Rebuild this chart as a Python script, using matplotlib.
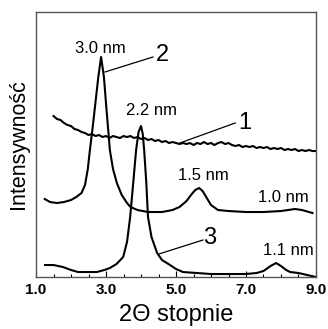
import matplotlib
matplotlib.use("Agg")
import matplotlib.pyplot as plt

plt.rcParams['font.family'] = ['Liberation Sans', 'DejaVu Sans']

# Curve 1 (noisy, decreasing background)
x1 = [1.5,1.6,1.7,1.8,1.9,2.0,2.1,2.2,2.3,2.4,2.5,2.6,2.7,2.8,2.9,3.0,3.1,3.2,3.3,3.4,
      3.5,3.6,3.7,3.8,3.9,4.0,4.1,4.2,4.3,4.4,4.5,4.6,4.7,4.8,4.9,5.0,5.1,5.2,5.3,5.4,
      5.5,5.6,5.7,5.8,5.9,6.0,6.1,6.2,6.3,6.4,6.5,6.6,6.7,6.8,6.9,7.0,7.1,7.2,7.3,7.4,
      7.5,7.6,7.7,7.8,7.9,8.0,8.1,8.2,8.3,8.4,8.5,8.6,8.7,8.8,8.9,9.0]
y1 = [161,158,157,154,152,151,148,147,145,144,142,143,141,142,140,141,139,141,140,139,
      141,140,141,139,140,138,139,137,138,136,137,135,136,134,135,134,133,134,133,134,
      132,134,133,135,133,134,132,134,135,133,134,132,131,132,130,131,130,131,129,130,
      129,130,128,129,128,129,127,128,127,128,126,127,126,127,126,126]

# Curve 2
x2 = [1.25,1.4,1.6,1.8,2.0,2.15,2.3,2.4,2.48,2.54,2.62,2.7,2.78,2.86,2.94,3.02,3.08,3.11,
      3.2,3.31,3.45,3.6,3.7,3.9,4.2,4.6,4.9,5.1,5.3,5.45,5.55,5.66,5.76,5.88,6.0,6.2,6.5,
      7.0,7.5,8.0,8.2,8.4,8.6,8.8,8.9]
y2 = [78,75,74,75,77,80,84,92,108,127,150,175,200,220,200,165,140,127,
      108,94,82,74,70,67,65,65,67,70,76,83,87,89,86,79,72,67,66,
      65,65,66,67,68,67,65,64]

# Curve 3
x3 = [1.26,1.5,1.77,2.0,2.2,2.5,2.74,2.95,3.11,3.3,3.49,3.6,3.69,3.78,3.86,3.93,4.0,4.05,
      4.09,4.15,4.2,4.3,4.46,4.6,4.83,5.0,5.2,5.6,6.0,6.5,7.0,7.3,7.5,7.7,7.86,8.0,8.15,
      8.26,8.5,8.75,9.0]
y3 = [12,12,10,7,5,5,5,7,9,13,20,35,60,95,127,145,151,143,
      127,95,60,40,24,17,12,8,5,4,3,3,3,4,6,11,14,11,7,
      5,4,2,0]

xticks = [1.0, 3.0, 5.0, 7.0, 9.0]
xtick_labels = ["1.0", "3.0", "5.0", "7.0", "9.0"]

fig = plt.figure(figsize=(3.28, 3.29), dpi=100)
ax = fig.add_axes([0.1098, 0.158, 0.8536, 0.8055])

for x, y in [(x1, y1), (x2, y2), (x3, y3)]:
    ax.plot(x, y, color='black', lw=1.5)

ax.set_xlim(1.0, 9.0)
ax.set_ylim(0, 265)
ax.set_xticks(xticks)
ax.set_xticklabels(xtick_labels, fontweight='bold', fontsize=11)
ax.set_xticks([1.5, 2.0, 2.5, 3.5, 4.0, 4.5, 5.5, 6.0, 6.5, 7.5, 8.0, 8.5], minor=True)
ax.tick_params(axis='x', which='major', direction='in', length=4, width=0.8, pad=4)
ax.tick_params(axis='x', which='minor', direction='in', length=2.5, width=0.8)
ax.set_yticks([])
for s in ax.spines.values():
    s.set_color('#555555')
    s.set_linewidth(1.0)

ax.set_xlabel("2Θ stopnie", fontsize=17, labelpad=5)
ax.set_ylabel("Intensywność", fontsize=15.5, labelpad=5)

ann = dict(fontsize=12, ha='center', va='center')
ax.text(2.83, 229, "3.0 nm", **ann)
ax.text(4.31, 167, "2.2 nm", **ann)
ax.text(5.77, 102, "1.5 nm", **ann)
ax.text(8.06, 80, "1.0 nm", **ann)
ax.text(8.2, 27, "1.1 nm", **ann)

big = dict(fontsize=17, ha='center', va='center')
ax.text(4.6, 222, "2", **big)
ax.text(6.97, 154, "1", **big)
ax.text(5.97, 39, "3", **big)

ax.plot([2.97, 4.34], [205, 220], color='black', lw=0.9)
ax.plot([5.11, 6.69], [134, 154], color='black', lw=0.9)
ax.plot([4.51, 5.77], [23, 37], color='black', lw=0.9)

fig.savefig("out.png", dpi=100)
